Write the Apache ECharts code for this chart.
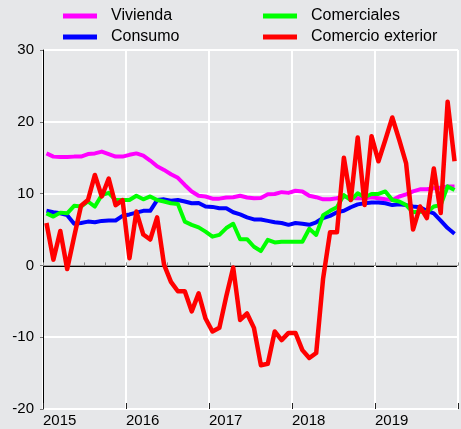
<!DOCTYPE html>
<html>
<head>
    <meta charset="utf-8">
    <title>Vivienda, Consumo, Comerciales, Comercio exterior</title>
    <script src="https://cdn.jsdelivr.net/npm/echarts@6/dist/echarts.min.js"></script>
    <style>
        html, body { margin: 0; padding: 0; background: #e6e7e9; }
        #main { width: 461px; height: 429px; }
    </style>
</head>
<body>
    <div id="main"></div>
    <script>
        var myChart = echarts.init(document.getElementById('main'));

        // monthly data, Jan 2015 .. Dec 2019
        const firstYear = 2015;
        const seriesNames = ['Vivienda', 'Consumo', 'Comerciales', 'Comercio exterior'];
        const seriesColors = ['#ff00ff', '#0000ff', '#00ff00', '#ff0000'];

        const vivienda = [
            15.6, 15.15, 15.1, 15.1, 15.15, 15.15, 15.5, 15.6, 15.85, 15.5, 15.15, 15.15,
            15.4, 15.6, 15.3, 14.6, 13.8, 13.3, 12.7, 12.2, 11.2, 10.3, 9.7, 9.6,
            9.3, 9.3, 9.45, 9.5, 9.7, 9.45, 9.35, 9.4, 9.9, 9.95, 10.2, 10.1,
            10.4, 10.3, 9.7, 9.5, 9.2, 9.2, 9.35, 9.6, 9.4, 9.35, 9.35, 9.5,
            9.35, 9.2, 9.1, 9.6, 9.9, 10.3, 10.6, 10.6, 10.75, 10.8, 11.0, 11.0
        ];
        const consumo = [
            7.6, 7.4, 7.25, 7.0, 5.8, 5.9, 6.1, 6.0, 6.2, 6.25, 6.25, 6.9,
            7.1, 7.35, 7.6, 7.6, 9.1, 9.2, 9.0, 9.1, 8.9, 8.65, 8.7, 8.2,
            8.15, 7.95, 7.95, 7.4, 7.1, 6.7, 6.4, 6.4, 6.2, 6.0, 5.9, 5.65,
            5.9, 5.8, 5.65, 6.0, 6.6, 6.9, 7.4, 7.6, 8.1, 8.5, 8.65, 8.75,
            8.75, 8.65, 8.4, 8.5, 8.4, 8.2, 8.1, 7.6, 7.25, 6.25, 5.2, 4.4
        ];
        const comerciales = [
            7.25, 6.8, 7.35, 7.25, 8.3, 8.2, 8.9, 8.2, 9.8, 10.1, 9.1, 9.1,
            9.1, 9.7, 9.2, 9.6, 9.1, 8.9, 8.65, 8.55, 6.1, 5.65, 5.3, 4.7,
            4.0, 4.25, 5.2, 5.8, 3.65, 3.65, 2.6, 2.0, 3.55, 3.2, 3.3, 3.3,
            3.3, 3.3, 5.1, 4.25, 7.0, 7.6, 8.1, 9.8, 9.1, 10.05, 9.5, 9.95,
            9.95, 10.3, 9.1, 8.9, 8.4, 7.4, 7.5, 7.4, 8.2, 8.4, 11.0, 10.5
        ];
        const comercioExterior = [
            5.9, 0.8, 4.8, -0.5, 4.0, 8.3, 9.1, 12.6, 9.6, 12.1, 8.4, 9.1,
            1.0, 7.5, 4.3, 3.6, 6.7, 0.1, -2.3, -3.6, -3.6, -6.4, -3.9, -7.4,
            -9.2, -8.7, -4.3, -0.3, -7.6, -6.7, -8.7, -13.9, -13.7, -9.2, -10.4, -9.4,
            -9.4, -11.8, -12.9, -12.2, -1.8, 4.6, 4.6, 15.0, 9.1, 17.8, 8.4, 18.0,
            14.5, 17.5, 20.6, 17.5, 14.2, 5.0, 8.2, 6.6, 13.5, 7.3, 22.8, 14.5
        ];
        const allValues = [vivienda, consumo, comerciales, comercioExterior];
        const lineWidths = [4, 4, 4, 4.5];

        // x axis counts months from Jan 2015, each value sits mid-month
        const monthCount = vivienda.length;

        function toPoints(values) {
            return values.map((v, i) => [i + 0.5, v]);
        }

        const series = seriesNames.map((name, k) => ({
            name: name,
            type: 'line',
            xAxisIndex: 0,
            showSymbol: false,
            symbol: 'none',
            lineStyle: { color: seriesColors[k], width: lineWidths[k], join: 'round' },
            itemStyle: { color: seriesColors[k] },
            data: toPoints(allValues[k]),
            z: 3 + k
        }));

        const legendBase = {
            orient: 'vertical',
            top: 8,
            padding: 0,
            itemWidth: 34,
            itemHeight: 5,
            itemGap: 5,
            icon: 'rect',
            textStyle: {
                fontFamily: 'Liberation Sans',
                fontSize: 16,
                lineHeight: 16,
                color: '#000',
                padding: [0, 0, 0, 9]
            }
        };

        const option = {
            backgroundColor: '#e6e7e9',
            animation: false,
            textStyle: { fontFamily: 'Liberation Sans' },
            legend: [
                Object.assign({}, legendBase, { left: 63, data: ['Vivienda', 'Consumo'] }),
                Object.assign({}, legendBase, { left: 263, data: ['Comerciales', 'Comercio exterior'] })
            ],
            grid: { left: 43, top: 50, width: 420, height: 359 },
            xAxis: [
                {
                    type: 'value',
                    min: 0,
                    max: monthCount,
                    interval: 3,
                    position: 'bottom',
                    axisLine: { show: true, lineStyle: { color: '#a0a0a0', width: 1 } },
                    axisTick: { show: true, inside: true, length: 3, lineStyle: { color: '#8a8a8a' } },
                    axisLabel: { show: false },
                    splitLine: { show: false }
                },
                {
                    type: 'value',
                    min: 0,
                    max: monthCount,
                    interval: 12,
                    position: 'bottom',
                    axisLine: { show: false },
                    axisTick: { show: true, inside: true, length: 6, lineStyle: { color: '#222' } },
                    axisLabel: {
                        show: true,
                        margin: 4,
                        align: 'left',
                        fontSize: 15,
                        color: '#000',
                        formatter: v => (v >= monthCount ? '' : String(firstYear + v / 12))
                    },
                    splitLine: { show: true, lineStyle: { color: '#ffffff', width: 2 } }
                }
            ],
            yAxis: {
                type: 'value',
                min: -20,
                max: 30,
                interval: 10,
                axisLine: { show: true, lineStyle: { color: '#000', width: 1 } },
                axisTick: { show: true, length: 3, lineStyle: { color: '#777' } },
                axisLabel: { margin: 9, fontSize: 15, color: '#000' },
                splitLine: {
                    show: true,
                    lineStyle: {
                        color: ['#ffffff', '#ffffff', '#000000', '#ffffff', '#ffffff', '#ffffff'],
                        width: 2
                    }
                }
            },
            series: series
        };

        myChart.setOption(option);
    </script>
</body>
</html>
